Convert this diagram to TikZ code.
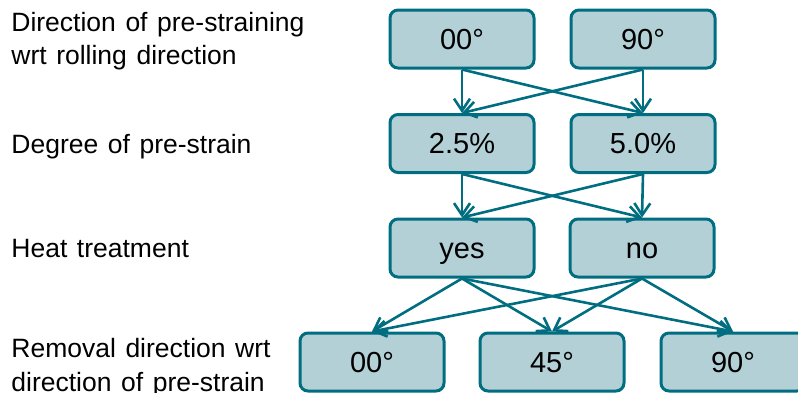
\documentclass[tikz,border=0pt]{standalone}
\usepackage{fontspec}
\setmainfont[WordSpace=1.3]{Liberation Sans}
\usetikzlibrary{arrows.meta}
\definecolor{boxteal}{RGB}{0,110,128}
\definecolor{boxfill}{RGB}{178,208,214}

\begin{document}
\begin{tikzpicture}[x=0.5pt,y=-0.5pt,
    choice/.style={draw=boxteal,fill=boxfill,line width=1.5pt,rounded corners=4pt,
        minimum width=72pt,minimum height=29pt,inner sep=0pt,
        text height=10.4pt,text depth=0pt,font=\fontsize{14.5}{17}\selectfont},
    rowtext/.style={align=left,inner sep=0pt,font=\fontsize{13.25}{16.7}\selectfont},
    link/.style={draw=boxteal,line width=1.3pt,-{Straight Barb[length=6pt,width=8pt]}}]
    \clip (0,0) rectangle (798,392);
    \useasboundingbox (0,0) rectangle (798,392);

    % Row captions
    \node[rowtext,anchor=north west] (dirtext) at (11,11.5) {Direction of pre-straining\\wrt rolling direction};
    \node[rowtext,anchor=base west] (degtext) at (11,153) {Degree of pre-strain};
    \node[rowtext,anchor=base west] (heattext) at (11,257) {Heat treatment};
    \node[rowtext,anchor=north west] (remtext) at (11,338) {Removal direction wrt\\direction of pre-strain};

    % Choice boxes
    \node[choice] (pre00) at (462,39) {00°};
    \node[choice] (pre90) at (643,39) {90°};
    \node[choice] (deg25) at (462,143.5) {2.5\%};
    \node[choice] (deg50) at (643,143.5) {5.0\%};
    \node[choice] (heatyes) at (462,248) {yes};
    \node[choice] (heatno) at (642,248) {no};
    \node[choice] (rem00) at (372,362) {00°};
    \node[choice] (rem45) at (552,362) {45°};
    \node[choice] (rem90) at (733,362) {90°};

    % Links between rows
    \foreach \from in {pre00,pre90} {
        \foreach \to in {deg25,deg50}
            \draw[link] (\from.south) -- (\to.north);
    }
    \foreach \from in {deg25,deg50} {
        \foreach \to in {heatyes,heatno}
            \draw[link] (\from.south) -- (\to.north);
    }
    \foreach \from in {heatyes,heatno} {
        \foreach \to in {rem00,rem45,rem90}
            \draw[link] (\from.south) -- (\to.north);
    }
\end{tikzpicture}
\end{document}
